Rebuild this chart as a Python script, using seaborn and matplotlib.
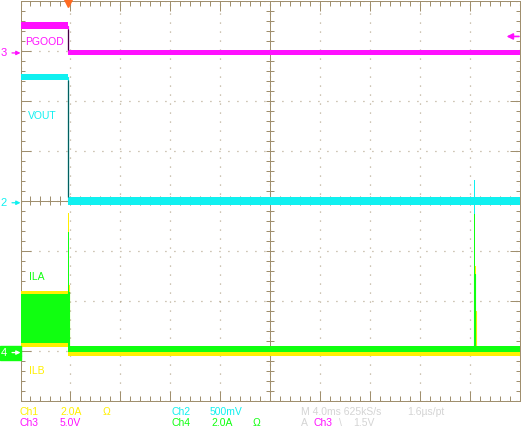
import numpy as np
import pandas as pd
import matplotlib
matplotlib.use("Agg")
import matplotlib.pyplot as plt
import seaborn as sns
from matplotlib.patches import Rectangle

# Scope capture: 10 x 8 divisions, time in divisions (4 ms/div),
# vertical position in divisions from screen centre.
FRAME = "#A08F6E"
MAGENTA = "#FF10FF"
CYAN = "#10F0F0"
GREEN = "#10FF10"
YELLOW = "#FFF000"
GREY_TXT = "#D4D4D4"

# Ch3 PGOOD
pgood_t = [0.0, 0.95, 0.95, 10.0]
pgood_top = [3.57, 3.57, 3.01, 3.01]
pgood_bot = [3.43, 3.43, 2.91, 2.91]

# Ch2 VOUT
vout_t = [0.0, 0.95, 0.95, 9.08, 9.08, 9.10, 9.10, 10.0]
vout_top = [2.53, 2.53, 0.07, 0.07, 0.41, 0.41, 0.07, 0.07]
vout_bot = [2.41, 2.41, -0.09, -0.09, -0.27, -0.27, -0.09, -0.09]

# Ch4 ILA
ila_t = [0.0, 0.95, 0.95, 0.97, 0.97, 9.09, 9.09, 9.11, 9.11, 10.0]
ila_top = [-1.87, -1.87, -0.63, -0.63, -2.91, -2.91, 0.11, 0.11, -2.91, -2.91]
ila_bot = [-2.85, -2.85, -3.03, -3.03, -3.03, -3.03, -3.03, -3.03, -3.03, -3.03]

# Ch1 ILB
ilb_t = [0.0, 0.95, 0.95, 0.97, 0.97, 9.11, 9.11, 9.13, 9.13, 10.0]
ilb_top = [-1.81, -1.81, -0.25, -0.25, -3.01, -3.01, -1.31, -1.31, -3.01, -3.01]
ilb_bot = [-2.93, -2.93, -3.11, -3.11, -3.11, -3.11, -3.11, -3.11, -3.11, -3.11]

# channel ground markers (divisions)
marker_levels = {"3": 2.96, "2": -0.04, "4": -3.04}
trig_level = 3.29
trig_time = 0.95

sns.set_style("white")
plt.rcParams["font.family"] = ["Liberation Sans", "DejaVu Sans"]
FS = 7.5

fig = plt.figure(figsize=(5.22, 4.34), dpi=100)
ax = fig.add_axes([20.5 / 522, (434 - 400.5) / 434, 499 / 522, 399.5 / 434])
ax.set_xlim(0, 10)
ax.set_ylim(-4, 4)

# graticule
ax.set_xticks(np.arange(0, 11, 1))
ax.set_xticks(np.arange(0, 10.01, 0.2), minor=True)
ax.set_yticks(np.arange(-4, 5, 1))
ax.set_yticks(np.arange(-4, 4.01, 0.2), minor=True)
ax.tick_params(axis="x", which="both", direction="in", top=True, bottom=True,
               labelbottom=False, color=FRAME, width=0.72)
ax.tick_params(axis="y", which="both", direction="in", left=True, right=True,
               labelleft=False, color=FRAME, width=0.72)
ax.tick_params(which="major", length=7.2)
ax.tick_params(axis="x", which="minor", length=3.6)
ax.tick_params(axis="y", which="minor", length=2.9)
ax.grid(True, which="major", color=FRAME, linestyle=(0, (0.72, 6.48)), lw=0.9)
for s in ax.spines.values():
    s.set_color(FRAME)
    s.set_linewidth(0.72)
ax.axhline(0, color=FRAME, lw=0.72, zorder=1)
ax.axvline(5, color=FRAME, lw=0.72, zorder=1)
ax.vlines(np.arange(0, 10.01, 0.2), -0.09, 0.09, color=FRAME, lw=0.72, zorder=1)
ax.hlines(np.arange(-4, 4.01, 0.2), 4.91, 5.09, color=FRAME, lw=0.72, zorder=1)

# traces: ILB under ILA, then VOUT, PGOOD
traces = [
    (ilb_t, ilb_bot, ilb_top, YELLOW),
    (ila_t, ila_bot, ila_top, GREEN),
    (vout_t, vout_bot, vout_top, CYAN),
    (pgood_t, pgood_bot, pgood_top, MAGENTA),
]
for t, lo, hi, col in traces:
    ax.fill_between(t, lo, hi, color=col, lw=0, zorder=3)
    df = pd.DataFrame({"t": t, "v": (np.array(lo) + np.array(hi)) / 2})
    sns.lineplot(data=df, x="t", y="v", color=col, lw=0.8, sort=False,
                 estimator=None, ax=ax, zorder=3)

# falling edges at turn-off
ax.vlines(trig_time, pgood_top[2], pgood_bot[1], color="#400040", lw=0.9, zorder=4)
ax.vlines(trig_time, vout_top[2], vout_bot[1], color="#006060", lw=0.9, zorder=4)
ax.set_xlabel("")
ax.set_ylabel("")

# in-screen labels
ax.text(0.09, 3.18, "PGOOD", color=MAGENTA, fontsize=FS, va="center")
ax.text(0.15, 1.7, "VOUT", color=CYAN, fontsize=FS, va="center")
ax.text(0.17, -1.53, "ILA", color=GREEN, fontsize=FS, va="center")
ax.text(0.17, -3.41, "ILB", color=YELLOW, fontsize=FS, va="center")

# channel markers on the left
for name, lvl in marker_levels.items():
    col = {"3": MAGENTA, "2": CYAN, "4": "white"}[name]
    if name == "4":
        ax.add_patch(Rectangle((-0.41, lvl - 0.14), 0.41, 0.28, color=GREEN,
                               clip_on=False, zorder=5))
    ax.text(-0.33, lvl, name, color=col, fontsize=FS + 0.5, va="center",
            ha="center", zorder=6, clip_on=False)
    ax.annotate("", xy=(0, lvl), xytext=(-0.17, lvl),
                arrowprops=dict(arrowstyle="-|>", color=col, lw=0.9,
                                mutation_scale=6, shrinkA=0, shrinkB=0),
                annotation_clip=False, zorder=6)

# trigger position and level
ax.plot([trig_time], [3.95], marker="v", color="#FF6A20", markersize=6,
        clip_on=False, zorder=6)
ax.annotate("", xy=(9.74, trig_level), xytext=(9.99, trig_level),
            arrowprops=dict(arrowstyle="-|>", color=MAGENTA, lw=1.2,
                            mutation_scale=9, shrinkA=0, shrinkB=0),
            annotation_clip=False, zorder=6)

# readout text below the screen
r1 = 1 - 412 / 434
r2 = 1 - 423.5 / 434
readout = [
    (20, r1, "Ch1", YELLOW), (60, r1, "2.0A", YELLOW), (103, r1, "Ω", YELLOW),
    (171, r1, "Ch2", CYAN), (210, r1, "500mV", CYAN),
    (301, r1, "M 4.0ms 625kS/s", GREY_TXT), (407, r1, "1.6µs/pt", GREY_TXT),
    (20, r2, "Ch3", MAGENTA), (60, r2, "5.0V", MAGENTA),
    (171, r2, "Ch4", GREEN), (211, r2, "2.0A", GREEN), (253, r2, "Ω", GREEN),
    (301, r2, "A", GREY_TXT), (313, r2, "Ch3", MAGENTA),
    (339, r2, "\\", GREY_TXT), (353, r2, "1.5V", GREY_TXT),
]
for x, y, s, col in readout:
    fig.text(x / 522, y, s, color=col, fontsize=FS, va="center", ha="left")

fig.savefig("out.png", dpi=100)
